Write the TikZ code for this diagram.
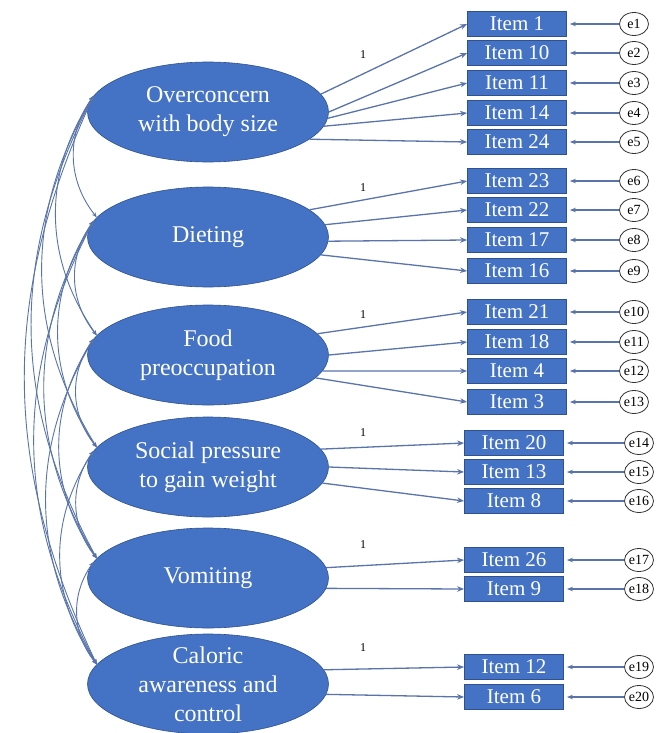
\documentclass[tikz,border=0pt]{standalone}
\usepackage{fontspec}
\setmainfont{Liberation Serif}
\usetikzlibrary{shapes.geometric,arrows.meta}
\definecolor{fillblue}{HTML}{4472C4}
\definecolor{edgeblue}{HTML}{2F528F}
\definecolor{linkblue}{RGB}{88,116,170}

\begin{document}
\begin{tikzpicture}[x=1pt,y=-1pt,
  latent/.style={ellipse, fill=fillblue, draw=edgeblue, line width=0.6pt,
    minimum width=241pt, minimum height=100pt, inner sep=0pt},
  lattext/.style={text=white, font=\fontsize{24}{29}\selectfont, align=center},
  item/.style={rectangle, fill=fillblue, draw=edgeblue, line width=0.8pt,
    minimum width=99pt, minimum height=25pt, inner sep=0pt, text=white,
    font=\fontsize{21}{25}\selectfont},
  err/.style={ellipse, draw=black!80, fill=white, line width=0.8pt,
    minimum width=29pt, minimum height=23pt, inner sep=0pt,
    font=\fontsize{14}{15}\selectfont},
  load/.style={draw=linkblue, line width=1.3pt, -{Stealth[length=7pt,width=5.5pt]}},
  resid/.style={draw=linkblue, line width=1.3pt, -{Stealth[length=6pt,width=4.5pt]}, shorten >=3pt},
  cov/.style={draw=linkblue, line width=0.9pt,
    {Stealth[length=5pt,width=4pt]}-{Stealth[length=5pt,width=4pt]}},
  one/.style={font=\fontsize{12}{14}\selectfont}
]
\useasboundingbox[fill=white] (0,0) rectangle (656,733);

% latent factors
\node[latent, label={[lattext]center:Overconcern\\with body size}] (f1) at (208,112) {};
\node[latent, label={[lattext]center:Dieting}] (f2) at (208,237) {};
\node[latent, label={[lattext]center:Food\\preoccupation}] (f3) at (208,355) {};
\node[latent, label={[lattext]center:Social pressure\\to gain weight}] (f4) at (208,467) {};
\node[latent, label={[lattext]center:Vomiting}] (f5) at (208,578) {};
\node[latent, label={[lattext]center:Caloric\\awareness and\\control}] (f6) at (208,684) {};

% observed items and their error terms
\foreach \n/\lab/\y/\x/\ex in {
  1/1/24/517/634, 2/10/53/517/634, 3/11/83/517/634, 4/14/113/517/634, 5/24/142/517/634,
  6/23/181/517/634, 7/22/210/517/634, 8/17/240/517/634, 9/16/271/517/634,
  10/21/312/517/634, 11/18/342/517/634, 12/4/371/517/634, 13/3/402/517/634,
  14/20/443/514/639, 15/13/472/514/639, 16/8/501/514/639,
  17/26/560/514/639, 18/9/589/514/639,
  19/12/667/514/639, 20/6/697/514/639} {
  \node[item] (i\n) at (\x,\y) {Item \lab};
  \node[err] (e\n) at (\ex,\y) {e\n};
  \draw[resid] (e\n.west) -- (i\n.east);
}

% factor loadings
\foreach \f/\a/\i in {
  f1/9.5/1, f1/0/2, f1/357/3, f1/353/4, f1/345/5,
  f2/15/6, f2/6/7, f2/358/8, f2/351.5/9,
  f3/11/10, f3/0/11, f3/352/12, f3/348/13,
  f4/9/14, f4/0/15, f4/352/16,
  f5/5/17, f5/355/18,
  f6/7/19, f6/355/20} {
  \draw[load] (\f.\a) -- (i\i.west);
}

% fixed loadings
\node[one] (w1) at (363,55) {1};
\node[one] (w2) at (363,188) {1};
\node[one] (w3) at (363,315) {1};
\node[one] (w4) at (363,433) {1};
\node[one] (w5) at (363,545) {1};
\node[one] (w6) at (363,648) {1};

% factor covariances
\foreach \a/\b in {1/2,1/3,1/4,1/5,1/6,2/3,2/4,2/5,2/6,3/4,3/5,3/6,4/5,4/6,5/6} {
  \pgfmathsetmacro\bnd{40-3*(\b-\a)}
  \draw[cov] (f\a.172) to[bend right=\bnd] (f\b.170);
}
\end{tikzpicture}
\end{document}
